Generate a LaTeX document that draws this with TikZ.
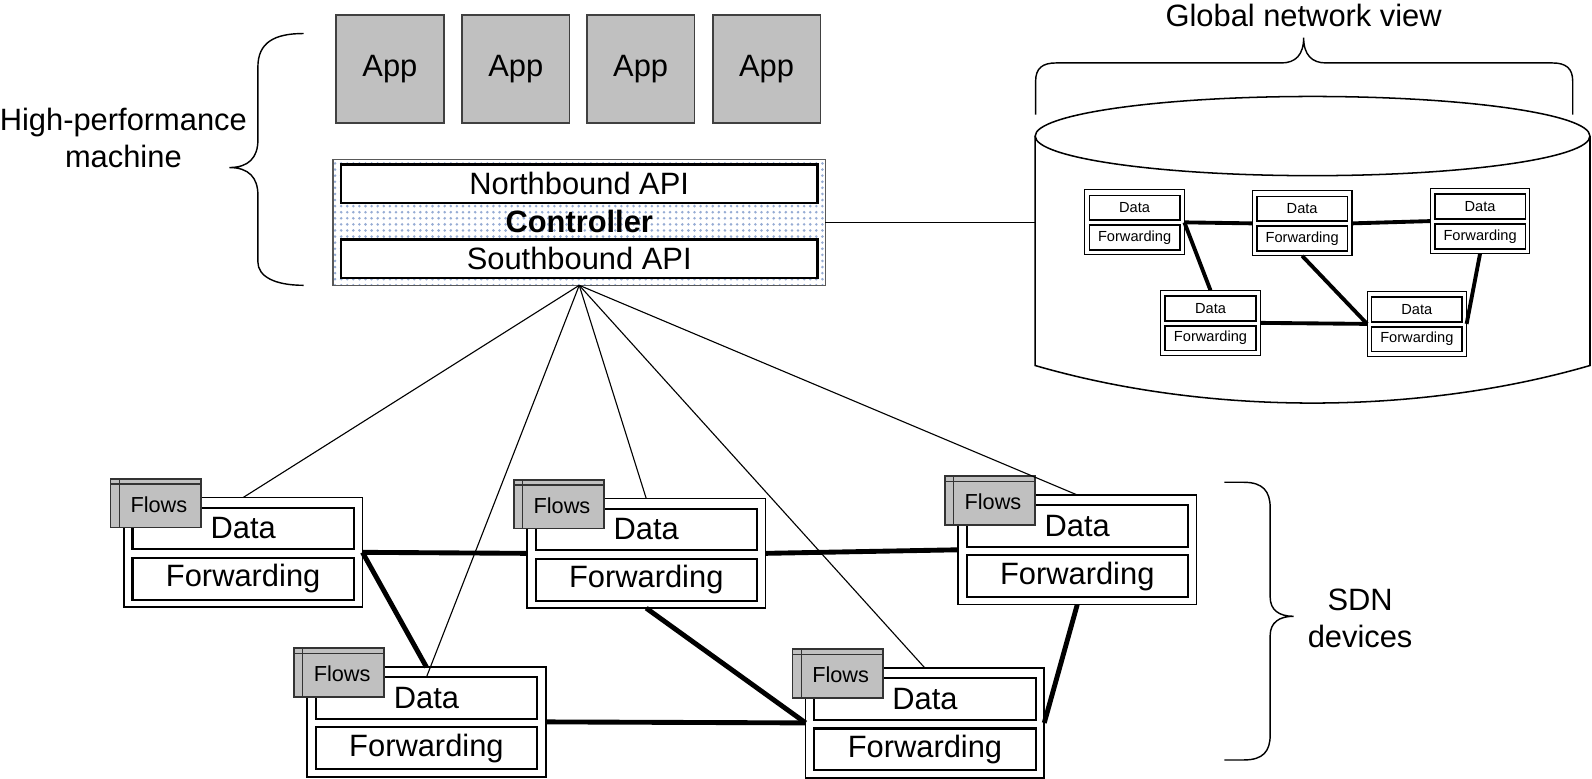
\documentclass[tikz,border=0pt]{standalone}
\usepackage{fontspec}
\setmainfont{Liberation Sans}
\usetikzlibrary{patterns.meta}
\definecolor{boxgray}{RGB}{192,192,192}
\definecolor{dotblue}{RGB}{150,172,212}
\tikzset{
  every node/.style={font=\fontsize{15.2}{18}\selectfont, inner sep=0pt, outer sep=0pt},
  appbox/.style={draw=black!75, line width=0.8pt, fill=boxgray, minimum width=53pt, minimum height=53pt},
  ctrlbox/.style={draw=black!65, line width=0.6pt, pattern={Dots[distance=3pt,radius=0.7pt]}, pattern color=dotblue, minimum width=242.5pt, minimum height=62pt},
  apibox/.style={draw=black, line width=1.2pt, fill=white, minimum width=234.5pt, minimum height=19pt},
  devbox/.style={draw=black, line width=0.8pt, fill=white, minimum width=117.5pt, minimum height=54pt},
  dfbox/.style={draw=black, line width=1pt, fill=white, minimum width=109pt, minimum height=20.5pt},
  tabbox/.style={draw=black!80, line width=0.8pt, fill=boxgray, minimum width=44.5pt, minimum height=24pt},
  tabline/.style={draw=black!80, line width=0.6pt},
  flowlbl/.style={font=\fontsize{10.7}{12}\selectfont},
  minibox/.style={draw=black, line width=0.6pt, fill=white, minimum width=49pt, minimum height=32pt},
  minidf/.style={draw=black, line width=0.8pt, fill=white, minimum width=44.6pt, minimum height=12.2pt, font=\fontsize{7.2}{8}\selectfont},
  ctrlline/.style={line width=0.55pt},
  devlink/.style={line width=2.4pt},
  minilink/.style={line width=1.9pt},
  bracestyle/.style={line width=0.7pt},
  cylstyle/.style={line width=0.75pt},
  lbl/.style={align=center}
}
\newcommand\bigdev[3]{%
  \node[devbox] (#1) at (#2,#3) {};
  \node[dfbox] (#1d) at (#2,#3-23.5) {Data};
  \node[dfbox] (#1f) at (#2,#3+26) {Forwarding};
  \node[tabbox] (#1t) at (#2-86,#3-48.5) {};
  \draw[tabline] ([yshift=-2.6pt]#1t.north west) -- ([yshift=-2.6pt]#1t.north east);
  \draw[tabline] ([xshift=4.4pt]#1t.north west) -- ([xshift=4.4pt]#1t.south west);
  \node[flowlbl] (#1l) at (#2-83,#3-47) {Flows};
}
\newcommand\minidev[3]{%
  \node[minibox] (#1) at (#2,#3) {};
  \node[minidf] (#1d) at (#2,#3-14.3) {Data};
  \node[minidf] (#1f) at (#2,#3+15) {Forwarding};
}
\begin{document}
\begin{tikzpicture}[x=0.5pt,y=-0.5pt]
\fill[white] (0,0) rectangle (1568,767);
\useasboundingbox (0,0) rectangle (1568,767);

% applications
\node[appbox] (app1) at (384,68) {App};
\node[appbox] (app2) at (508,68) {App};
\node[appbox] (app3) at (631,68) {App};
\node[appbox] (app4) at (755,68) {App};

% controller
\node[ctrlbox] (ctrl) at (570.5,219) {};
\node[apibox] (nb) at (570.5,181) {Northbound API};
\node[apibox] (sb) at (570.5,255) {Southbound API};
\node[font=\fontsize{15.2}{18}\selectfont\bfseries] (ctrltxt) at (570.5,218) {Controller};

% left brace
\draw[bracestyle] (299,33) .. controls (270,33) and (254,42) .. (254,66) -- (254,138)
  .. controls (254,155) and (245,165) .. (226,165)
  .. controls (245,165) and (254,175) .. (254,192) -- (254,258)
  .. controls (254,272) and (270,281) .. (299,281);
\node[lbl] (hpm) at (121.5,136) {High-performance\\machine};

% global network view
\coordinate (cylL) at (1019.5,219);
\draw[cylstyle] (1019.5,134) -- (1019.5,360) .. controls (1189.5,409.3) and (1396,409.3) .. (1566,360) -- (1566,134);
\draw[cylstyle] (1292.75,134) ellipse [x radius=136.6pt, y radius=19.5pt];
\draw[bracestyle] (1020,113) -- (1020,80) .. controls (1020,67) and (1027,62) .. (1040,62) -- (1262,62)
  .. controls (1276,62) and (1284,54) .. (1284,37)
  .. controls (1284,54) and (1292,62) .. (1306,62) -- (1529,62)
  .. controls (1542,62) and (1549,67) .. (1549,80) -- (1549,113);
\node[lbl] (gnv) at (1284,15) {Global network view};
\draw[ctrlline] (ctrl.east) -- (cylL);

% mini network
\minidev{ma}{1117.5}{219}
\minidev{mb}{1282.5}{220}
\minidev{mc}{1457.75}{217.75}
\minidev{md}{1192.25}{318}
\minidev{me}{1395.5}{319}
\draw[minilink] (ma.east) -- (mb.west);
\draw[minilink] (ma.east) -- (md.north);
\draw[minilink] (mb.east) -- (mc.west);
\draw[minilink] (mb.south) -- (me.west);
\draw[minilink] (md.east) -- (me.west);
\draw[minilink] (mc.south) -- (me.east);

% SDN devices
\bigdev{d1}{239.5}{544}
\bigdev{d2}{636.5}{545}
\bigdev{d3}{1061}{541.5}
\bigdev{d4}{420}{711}
\bigdev{d5}{911}{712}

\draw[ctrlline] (ctrl.south) -- (d1.north);
\draw[ctrlline] (ctrl.south) -- (d4d.north);
\draw[ctrlline] (ctrl.south) -- (d2.north);
\draw[ctrlline] (ctrl.south) -- (d5.north);
\draw[ctrlline] (ctrl.south) -- (d3.north);

\draw[devlink] (d1.east) -- (d2.west);
\draw[devlink] (d1.east) -- (d4.north);
\draw[devlink] (d2.east) -- (d3.west);
\draw[devlink] (d2.south) -- (d5.west);
\draw[devlink] (d4.east) -- (d5.west);
\draw[devlink] (d3.south) -- (d5.east);

% right brace
\draw[bracestyle] (1206,475) -- (1225,475) .. controls (1244,475) and (1251,484) .. (1251,500) -- (1251,588)
  .. controls (1251,601) and (1260,607) .. (1274,607)
  .. controls (1260,607) and (1251,613) .. (1251,626) -- (1251,724)
  .. controls (1251,740) and (1244,748.5) .. (1225,748.5) -- (1206,748.5);
\node[lbl] (sdn) at (1339.6,609) {SDN\\devices};
\end{tikzpicture}
\end{document}
